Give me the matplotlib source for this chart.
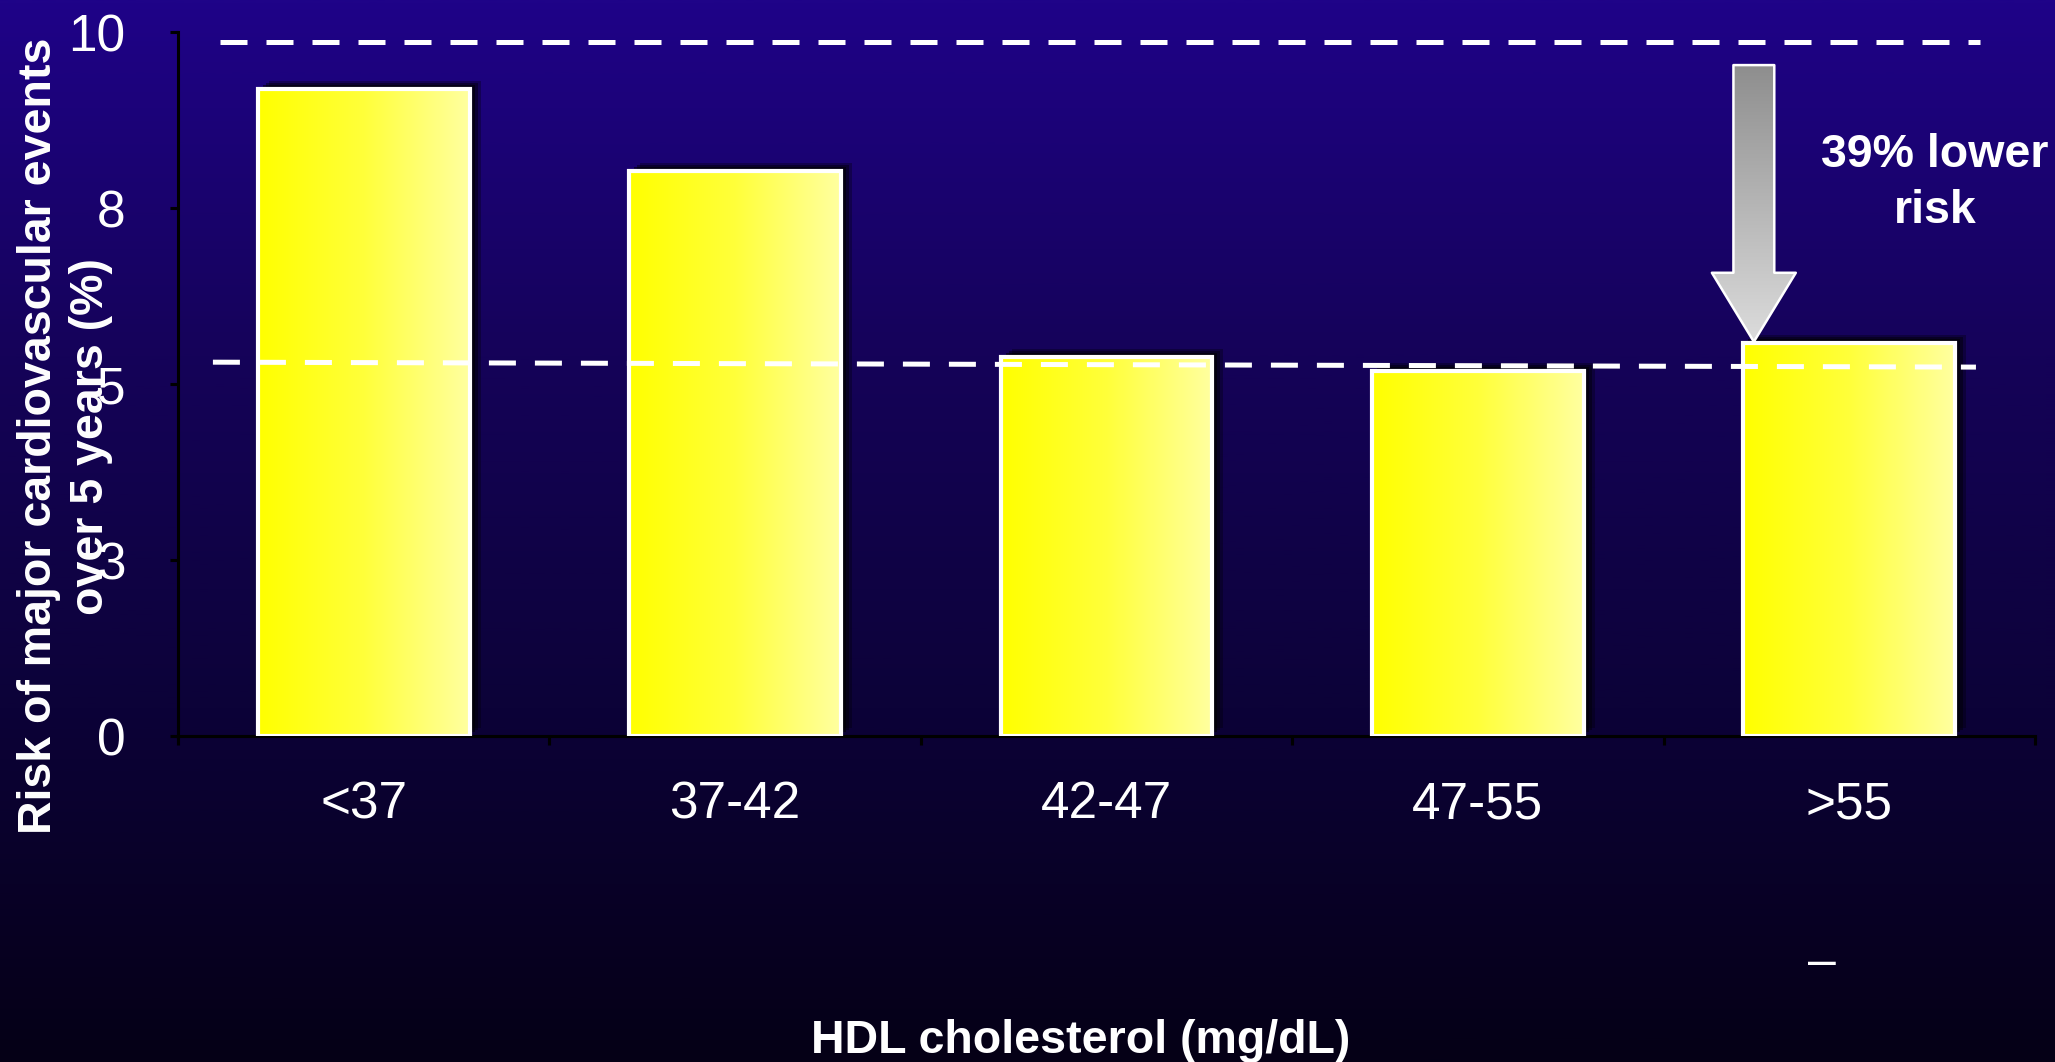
import numpy as np
import matplotlib.pyplot as plt
from matplotlib.colors import LinearSegmentedColormap
from matplotlib.patches import Polygon, Rectangle
from matplotlib.transforms import offset_copy

plt.rcParams['font.family'] = ['Liberation Sans', 'DejaVu Sans']

# HDL cholesterol groups (mg/dL) and 5-year risk of major CV events (%)
grupos = ["<37", "37-42", "42-47", "47-55", ">55"]
riesgo = [9.19, 8.02, 5.39, 5.18, 5.58]

# y ticks (labels rounded to whole numbers)
yticks = [0, 2.5, 5, 7.5, 10]
yticklabels = ["0", "3", "5", "8", "10"]

# dashed reference levels
nivel_alto = 9.86
nivel_bajo = (5.31, 5.24)

W, H, DPI = 2055, 1062, 100
fig = plt.figure(figsize=(W / DPI, H / DPI), dpi=DPI)

# fondo degradado azul -> negro
fondo = fig.add_axes([0, 0, 1, 1], zorder=0)
cmap_fondo = LinearSegmentedColormap.from_list(
    "fondo", ["#050016", "#0c0238", "#150259", "#1f0388"])
fondo.imshow(np.linspace(0, 1, 512).reshape(-1, 1), aspect='auto',
             cmap=cmap_fondo, origin='lower', extent=[0, 1, 0, 1])
fondo.axis('off')

ax = fig.add_axes([178 / W, 1 - 736 / H, 1857 / W, 704 / H], zorder=1)
ax.patch.set_alpha(0)

x = np.arange(len(grupos))
barras = ax.bar(x, riesgo, width=0.57, facecolor='none',
                edgecolor='white', linewidth=3, zorder=4)

# relleno amarillo degradado + sombra suave
cmap_barra = LinearSegmentedColormap.from_list(
    "amarillo", ["#ffff00", "#ffff3a", "#ffffa0"])
grad_h = np.linspace(0, 1, 256).reshape(1, -1)
for b in barras:
    x0, w, h = b.get_x(), b.get_width(), b.get_height()
    for dx, dy, a in [(11, 8, 0.3), (8, 6, 0.4), (5, 4, 0.55), (2, 2, 0.7)]:
        tr = offset_copy(ax.transData, fig=fig, x=dx, y=dy, units='dots')
        ax.add_patch(Rectangle((x0, 0), w, h, transform=tr, facecolor='black',
                               edgecolor='none', alpha=a, zorder=2))
    im = ax.imshow(grad_h, cmap=cmap_barra, aspect='auto',
                   extent=[x0, x0 + w, 0, h], zorder=3)
    im.set_clip_path(b)

# flecha gris hacia la ultima barra
punta = riesgo[-1] + 0.02
cx = barras[-1].get_x() + 0.028
medio, cabeza, base, arriba = 0.055, 0.113, punta + 0.98, 9.53
verts = [(cx - medio, arriba), (cx + medio, arriba), (cx + medio, base),
         (cx + cabeza, base), (cx, punta), (cx - cabeza, base), (cx - medio, base)]
flecha = Polygon(verts, closed=True, facecolor='none', edgecolor='white',
                 linewidth=1.8, joinstyle='round', zorder=6)
ax.add_patch(flecha)
cmap_gris = LinearSegmentedColormap.from_list("gris", ["#dcdcdc", "#8e8e8e"])
im = ax.imshow(np.linspace(0, 1, 256).reshape(-1, 1), cmap=cmap_gris,
               aspect='auto', origin='lower',
               extent=[cx - cabeza, cx + cabeza, punta, arriba], zorder=5)
im.set_clip_path(flecha)

# lineas discontinuas de referencia
ax.plot([-0.387, 4.352], [nivel_alto, nivel_alto], color='white', lw=3.6,
        dashes=(5.4, 3.8), zorder=7, clip_on=False)
ax.plot([-0.406, 4.341], list(nivel_bajo), color='white', lw=3.6,
        dashes=(5.4, 3.8), zorder=7, clip_on=False)

ax.set_xlim(-0.5, 4.5)
ax.set_ylim(0, 10)

for s in ['top', 'right']:
    ax.spines[s].set_visible(False)
for s in ['left', 'bottom']:
    ax.spines[s].set_color('black')
    ax.spines[s].set_linewidth(2.2)

ax.set_yticks(yticks)
ax.set_yticklabels(yticklabels)
ax.tick_params(axis='y', length=6, width=2.2, color='black', pad=32,
               labelsize=37, labelcolor='white')

ax.set_xticks(x)
ax.set_xticklabels(grupos)
ax.set_xticks(np.arange(-0.5, len(grupos), 1), minor=True)
ax.tick_params(axis='x', which='major', length=0, pad=32,
               labelsize=37, labelcolor='white')
ax.tick_params(axis='x', which='minor', length=6.5, width=2.2, color='black')

fig.text(65 / W, 1 - 436 / H,
         "Risk of major cardiovascular events\nover 5 years (%)",
         rotation=90, ha='center', va='center', multialignment='center',
         fontsize=33.5, fontweight='bold', color='white', linespacing=1.25)
fig.text(1081 / W, 9 / H, "HDL cholesterol (mg/dL)", ha='center',
         va='baseline', fontsize=33.5, fontweight='bold', color='white')
fig.text(1935 / W, 1 - 183 / H, "39% lower\nrisk", ha='center', va='center',
         fontsize=33.5, fontweight='bold', color='white', linespacing=1.35)
fig.text(1822 / W, 1 - 963 / H, "–", ha='center', va='center',
         fontsize=36, color='white')

fig.savefig("out.png", dpi=DPI)
